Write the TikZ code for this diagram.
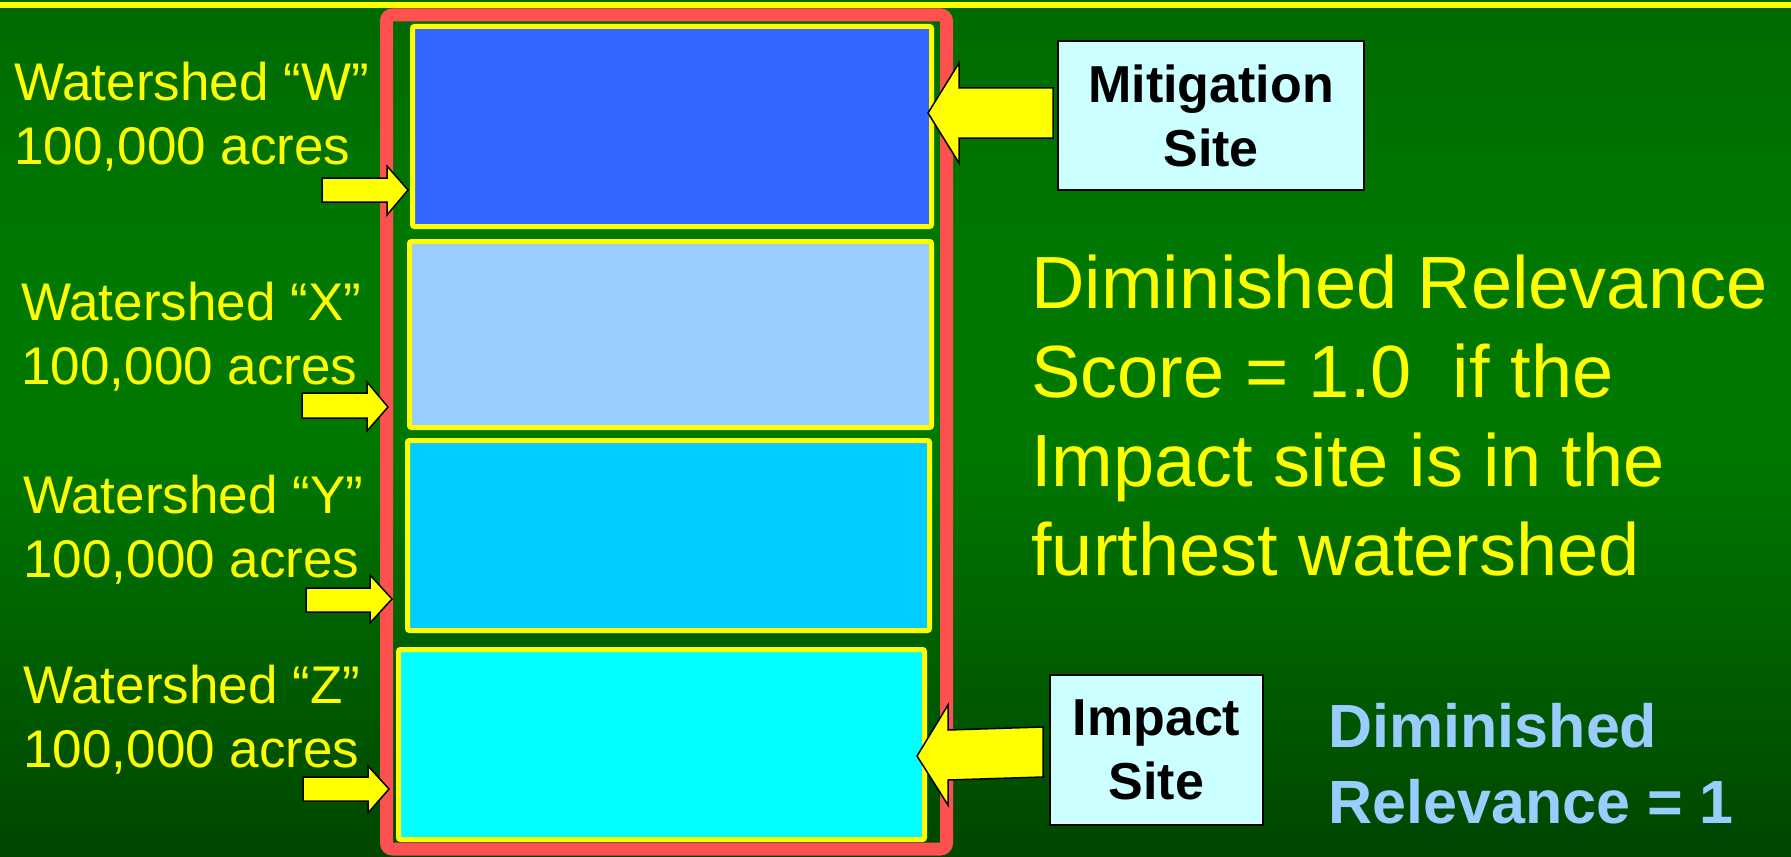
\documentclass[tikz,border=0pt]{standalone}
\usepackage{fontspec}
\setmainfont{Liberation Sans}
\definecolor{bgTop}{HTML}{006A00}
\definecolor{bgMid}{HTML}{007800}
\definecolor{bgBot}{HTML}{004600}
\definecolor{frameRed}{HTML}{FF5050}
\definecolor{cW}{HTML}{3366FF}
\definecolor{cX}{HTML}{99CCFF}
\definecolor{cY}{HTML}{00CCFF}
\definecolor{cZ}{HTML}{00FFFF}
\definecolor{siteC}{HTML}{CCFFFF}
\definecolor{relBlue}{HTML}{99CCFF}
\definecolor{ylw}{HTML}{FFFF00}
\begin{document}
\begin{tikzpicture}[x=0.5pt,y=-0.5pt,
  wbox/.style={draw=ylw, line width=2.5pt, rounded corners=1pt, inner sep=0pt},
  sitebox/.style={draw=black, line width=1pt, fill=siteC, inner sep=0pt, align=center,
    font=\bfseries\fontsize{26}{32}\selectfont},
  wlabel/.style={text=ylw, font=\fontsize{26.5}{32}\selectfont, align=left, inner sep=0pt, anchor=base west},
  bigtext/.style={text=ylw, font=\fontsize{37}{44.5}\selectfont, align=left, inner sep=0pt, anchor=base west},
  reltext/.style={text=relBlue, font=\bfseries\fontsize{30.5}{38}\selectfont, align=left, inner sep=0pt, anchor=base west},
  blockarrow/.style={fill=ylw, draw=black, line width=0.75pt, line join=miter}
]
\useasboundingbox (0,0) rectangle (1791,856);
% background
\shade[top color=bgTop, bottom color=bgMid] (0,0) rectangle (1791,252);
\fill[bgMid] (0,250) rectangle (1791,452);
\shade[top color=bgMid, bottom color=bgBot] (0,450) rectangle (1791,856);
\fill[ylw] (0,2) rectangle (1791,8.5);
% red frame
\draw[frameRed, line width=6.5pt, rounded corners=3pt] (386.5,15) rectangle (946.5,849);
% watershed boxes
\node[wbox, fill=cW, minimum width=259.5pt, minimum height=100pt] (W) at (672,126.5) {};
\node[wbox, fill=cX, minimum width=261pt, minimum height=93pt] (X) at (670.5,334.5) {};
\node[wbox, fill=cY, minimum width=261pt, minimum height=95pt] (Y) at (668.5,535.5) {};
\node[wbox, fill=cZ, minimum width=263pt, minimum height=95pt] (Z) at (661.5,744.5) {};
% labels (anchor = baseline of last line)
\node[wlabel] (lW) at (14,164) {Watershed “W”\\100,000 acres};
\node[wlabel] (lX) at (21,384) {Watershed “X”\\100,000 acres};
\node[wlabel] (lY) at (23,577) {Watershed “Y”\\100,000 acres};
\node[wlabel] (lZ) at (23,767) {Watershed “Z”\\100,000 acres};
% site boxes
\node[sitebox, minimum width=153pt, minimum height=74.5pt] (M) at (1211,115.5) {Mitigation\\Site};
\node[sitebox, minimum width=106.5pt, minimum height=75pt] (I) at (1156.5,750) {Impact\\Site};
% texts
\node[bigtext] (score) at (1031,575) {Diminished Relevance\\Score = 1.0\ \ if the\\Impact site is in the\\furthest watershed};
\node[reltext] (rel) at (1328,823) {Diminished\\Relevance = 1};
% left block arrows
\draw[blockarrow] (322,178) -- (387,178) -- (387,166) -- (408,190) -- (387,215) -- (387,202) -- (322,202) -- cycle;
\draw[blockarrow] (302,393) -- (367,393) -- (367,382) -- (388,407) -- (367,431) -- (367,418) -- (302,418) -- cycle;
\draw[blockarrow] (306,588) -- (370,588) -- (370,575) -- (392,599) -- (370,623) -- (370,612) -- (306,612) -- cycle;
\draw[blockarrow] (303,777) -- (368,777) -- (368,766) -- (389,789) -- (368,813) -- (368,801) -- (303,801) -- cycle;
% right block arrows
\draw[blockarrow] (1053,88) -- (959,88) -- (959,63) -- (928,113) -- (959,163) -- (959,138) -- (1053,138) -- cycle;
\draw[blockarrow] (1043,727) -- (948,730) -- (948,705) -- (917,756) -- (948,805) -- (948,780) -- (1043,777) -- cycle;
\end{tikzpicture}
\end{document}
